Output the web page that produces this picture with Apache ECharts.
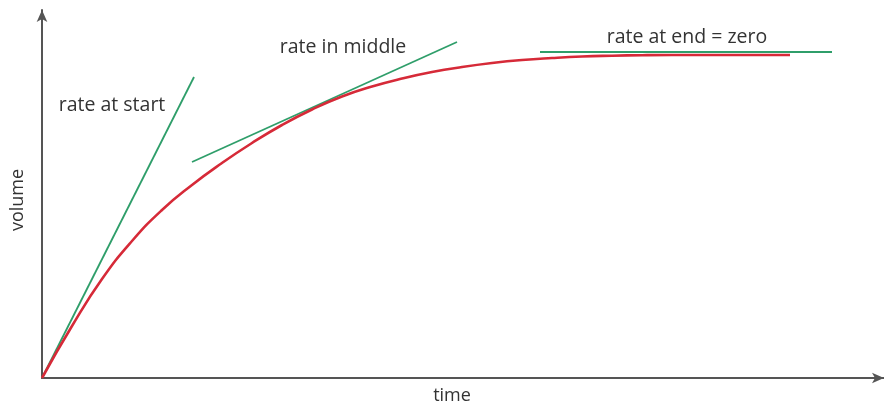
<!DOCTYPE html>
<html><head><meta charset="utf-8">
<script src="https://cdn.jsdelivr.net/npm/echarts@6/dist/echarts.min.js"></script>
<style>html,body{margin:0;padding:0;background:#fff}#c{width:884px;height:406px}</style>
</head><body><div id="c"></div>
<script>
// red curve (volume vs time)
const curveX = [0, 30, 60, 90, 120, 150, 180, 210, 240, 270, 300, 330, 360, 390, 420, 450, 480, 510, 540, 570, 600, 630, 660, 690, 720, 748];
const curveY = [0, 52, 99, 137, 168, 193, 215, 235, 253, 268.5, 281.5, 291.5, 299.5, 306, 311, 315, 318, 320, 321.5, 322.3, 322.8, 323, 323, 323, 323, 323];
// tangent lines
const startTangentX = [0, 152];
const startTangentY = [0, 301];
const middleTangentX = [150, 415];
const middleTangentY = [216, 336];
const endTangentX = [498, 790];
const endTangentY = [326, 326];
const labels = ['rate at start', 'rate in middle', 'rate at end = zero'];
const xName = 'time', yName = 'volume';

const zip = (a, b) => a.map((v, i) => [v, b[i]]);
const FONT = 'Open Sans';
const chart = echarts.init(document.getElementById('c'), null, {renderer: 'canvas'});
const axisCommon = {
  type: 'value', min: 0,
  axisLine: {show: true, symbol: ['none', 'arrow'], symbolSize: [8, 12], lineStyle: {color: '#555', width: 2}},
  axisTick: {show: false}, axisLabel: {show: false}, splitLine: {show: false}
};
const greenStyle = {color: '#2f9e6a', width: 1.8};
const txt = (s, x, y, size, rot) => ({type: 'text', x: x, y: y, rotation: rot || 0,
  style: {text: s, fill: '#333', font: size + 'px "' + FONT + '"', align: 'center', verticalAlign: 'middle'}});
chart.setOption({
  animation: false,
  grid: {left: 42, right: 0, top: 10, bottom: 28, containLabel: false},
  xAxis: Object.assign({}, axisCommon, {max: 842}),
  yAxis: Object.assign({}, axisCommon, {max: 368}),
  series: [
    {type: 'line', data: zip(curveX, curveY), smooth: 0.5, showSymbol: false, lineStyle: {color: '#d62a38', width: 2.6}, z: 3},
    {type: 'line', data: zip(startTangentX, startTangentY), showSymbol: false, lineStyle: greenStyle, z: 2},
    {type: 'line', data: zip(middleTangentX, middleTangentY), showSymbol: false, lineStyle: greenStyle, z: 2},
    {type: 'line', data: zip(endTangentX, endTangentY), showSymbol: false, lineStyle: greenStyle, z: 2}
  ],
  graphic: [
    txt(labels[0], 112, 105, 19.5),
    txt(labels[1], 343, 47, 19.5),
    txt(labels[2], 687, 37, 19.5),
    txt(xName, 452, 396, 18),
    txt(yName, 18, 200, 18, Math.PI / 2)
  ]
});
</script></body></html>
